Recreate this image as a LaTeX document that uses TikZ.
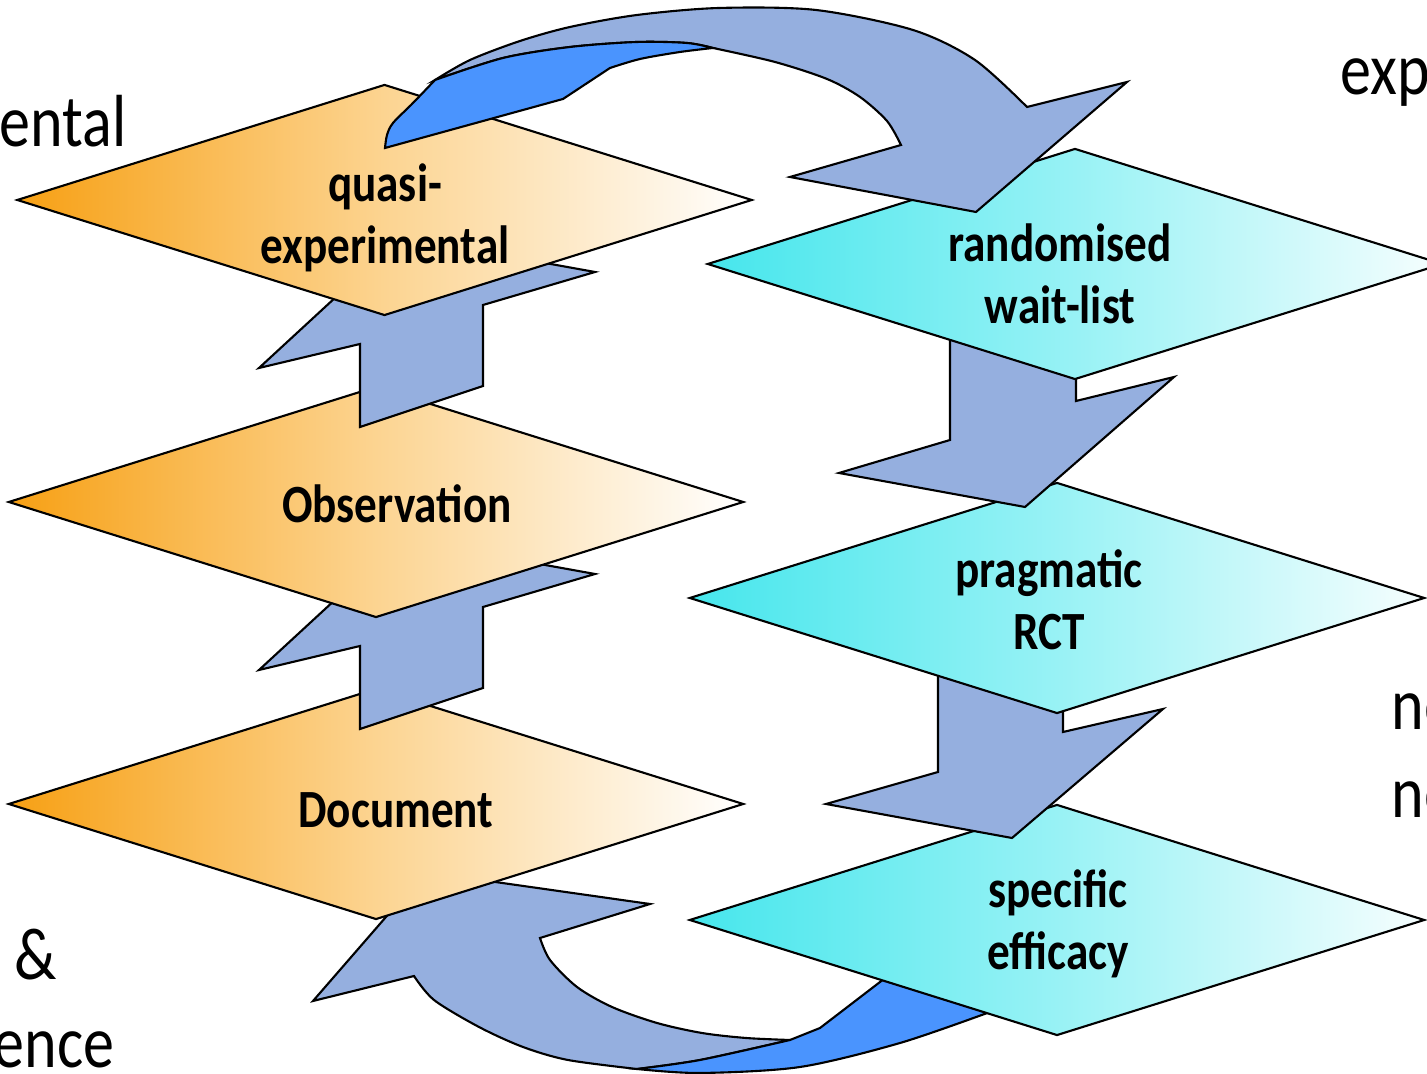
\documentclass[tikz,border=0pt]{standalone}
\usepackage{fontspec}
\setmainfont{Carlito}[FakeStretch=0.84]
\usetikzlibrary{shapes.geometric}
\definecolor{org}{RGB}{247,160,20}
\definecolor{orgmid}{RGB}{252,212,145}
\definecolor{cyn}{RGB}{70,230,236}
\definecolor{cynmid}{RGB}{152,242,245}
\definecolor{flat}{RGB}{149,175,223}
\definecolor{under}{RGB}{74,148,254}
\tikzset{
  stage/.style={shape=diamond, draw=black, line width=0.6pt, inner sep=0pt, outer sep=0pt,
                minimum width=7.34cm, minimum height=2.3cm},
  oldstage/.style={stage, left color=org, right color=white, middle color=orgmid},
  newstage/.style={stage, left color=cyn, right color=cyn!5, middle color=cynmid},
  stagetxt/.style={font=\fontsize{15.3}{17.6}\selectfont\bfseries, align=center, inner sep=0pt},
  sidetxt/.style={font=\fontsize{21}{25}\selectfont, inner sep=0pt},
  flatband/.style={draw=black, line width=0.6pt, fill=flat, line join=miter},
  underband/.style={flatband, fill=under},
}
\begin{document}
\begin{tikzpicture}[x=0.01cm, y=-0.01cm]
  \useasboundingbox (0,0) rectangle (1427,1074);
  % lower loop: efficacy back to document
  \draw[flatband] (414,976) -- plot[smooth] coordinates {(414,976) (434,1000) (479,1027) (523,1047) (568,1060) (637,1069)}
    -- plot[smooth] coordinates {(637,1069) (700,1060) (790,1040)}
    -- plot[smooth] coordinates {(790,1040) (746,1038) (702,1033) (657,1023) (612,1007) (577,987) (550,960) (540,938)}
    -- (650,904) -- (425,872) -- (313,1001) -- cycle;
  \draw[underband] plot[smooth] coordinates {(637,1069) (700,1060) (790,1040)} -- (820,1028) -- (880,982) -- (910,958) -- (1000,1000)
    -- plot[smooth] coordinates {(990,1012) (900,1043) (800,1067) (700,1073) (637,1069)} -- cycle;
  % left stack
  \node[oldstage] (doc) at (376,804) {};
  \draw[flatband] (401,539) -- (595,574) -- (483,607) -- (483,688) -- (360,729) -- (360,646) -- (259,670) -- cycle;
  \node[oldstage] (obs) at (376,502) {};
  \draw[flatband] (401,237) -- (595,272) -- (483,305) -- (483,386) -- (360,427) -- (360,344) -- (259,368) -- cycle;
  \node[oldstage] (quasi) at (384.5,200) {};
  % right stack
  \node[newstage] (spec) at (1057,920) {};
  \draw[flatband] (938,650) -- (938,772) -- (826,804) -- (1012,838) -- (1163,709) -- (1063,732) -- (1063,650) -- cycle;
  \node[newstage] (prag) at (1057,598) {};
  \draw[flatband] (950,320) -- (950,440) -- (839,473) -- (1025,507) -- (1174,377) -- (1076,401) -- (1076,320) -- cycle;
  \node[newstage] (rand) at (1075,264) {};
  % upper loop: quasi over to randomised
  \draw[flatband] plot[smooth] coordinates {(435,80) (470,60) (520,41) (570,27) (637,15) (719,8) (816,10) (913,30) (975,60) (1027,107)}
    -- (1127,82) -- (976,212) -- (790,177) -- (901,145)
    -- plot[smooth] coordinates {(901,145) (887,121) (860,97) (827,79) (775,62) (713,48)}
    -- plot[smooth] coordinates {(713,48) (687,43) (637,42) (570,47) (503,58) (435,80)} -- cycle;
  \draw[underband] (385,148) -- (563,99) -- (610,68)
    -- plot[smooth] coordinates {(610,68) (640,59) (680,52) (713,48)}
    -- plot[smooth] coordinates {(713,48) (687,43) (637,42) (570,47) (503,58) (435,80)}
    -- plot[smooth] coordinates {(435,80) (413,103) (393,123) (387,135) (385,148)} -- cycle;
  % stage labels
  \node[stagetxt] (tquasi) at (385,218) {quasi-\\experimental};
  \node[stagetxt] (tobs) at (397,504) {Observation};
  \node[stagetxt] (tdoc) at (396,810) {Document};
  \node[stagetxt] (trand) at (1060,274) {randomised\\wait-list};
  \node[stagetxt] (tprag) at (1049,600) {pragmatic\\RCT};
  \node[stagetxt] (tspec) at (1058,924) {specific\\efficacy};
  % side words
  \node[sidetxt, anchor=base east] (lental) at (127,147) {ental};
  \node[sidetxt, anchor=base west] (lexp) at (1340,95) {exp};
  \node[sidetxt, anchor=base west] (lno1) at (1391,730) {no};
  \node[sidetxt, anchor=base west] (lno2) at (1391,818) {no};
  \node[sidetxt, anchor=base west] (land) at (14,980) {\&};
  \node[sidetxt, anchor=base east] (lence) at (115,1068) {ence};
\end{tikzpicture}
\end{document}
